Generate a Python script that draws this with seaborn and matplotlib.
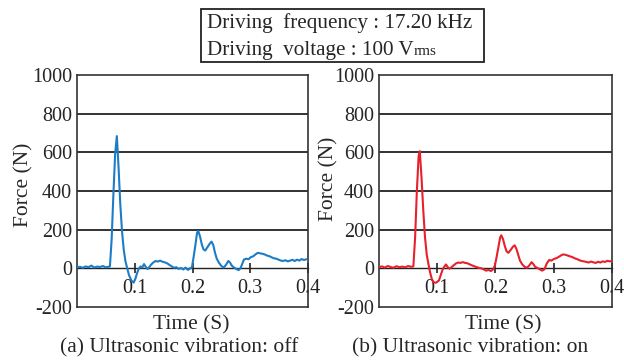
import numpy as np
import matplotlib
matplotlib.use("Agg")
import matplotlib.pyplot as plt
import seaborn as sns

# Force traces (time in s, force in N)
t_off = [0.000, 0.005, 0.010, 0.015, 0.020, 0.025, 0.030, 0.035, 0.040, 0.045,
         0.050, 0.054, 0.057, 0.060, 0.063, 0.066, 0.069, 0.072, 0.075, 0.078,
         0.081, 0.084, 0.087, 0.090, 0.094, 0.098, 0.101, 0.104, 0.107, 0.110,
         0.113, 0.116, 0.119, 0.122, 0.125, 0.128, 0.132, 0.136, 0.140, 0.144,
         0.148, 0.152, 0.156, 0.160, 0.164, 0.168, 0.172, 0.176, 0.180, 0.184,
         0.188, 0.192, 0.196, 0.199, 0.202, 0.205, 0.208, 0.210, 0.213, 0.216,
         0.219, 0.222, 0.226, 0.230, 0.233, 0.236, 0.239, 0.242, 0.246, 0.250,
         0.254, 0.258, 0.262, 0.265, 0.268, 0.272, 0.276, 0.280, 0.283, 0.286,
         0.289, 0.293, 0.297, 0.301, 0.305, 0.309, 0.313, 0.317, 0.321, 0.325,
         0.329, 0.333, 0.337, 0.341, 0.345, 0.349, 0.353, 0.357, 0.361, 0.365,
         0.369, 0.373, 0.377, 0.381, 0.385, 0.389, 0.393, 0.397]
f_off = [5, 8, 3, 10, 6, 14, 4, 9, 7, 12,
         5, 8, 10, 150, 380, 590, 684, 520, 330, 190,
         95, 35, 0, -35, -62, -74, -55, -25, -2, 10,
         4, 22, 8, -4, 6, 18, 30, 38, 35, 40,
         34, 31, 26, 18, 10, 3, 6, -3, 2, -6,
         4, -8, 0, 5, 60, 120, 185, 193, 165, 125,
         98, 92, 110, 128, 138, 120, 80, 50, 28, 12,
         4, 18, 38, 30, 14, 4, -4, -9, 0, 22,
         45, 50, 47, 58, 62, 72, 80, 78, 75, 72,
         66, 63, 57, 52, 50, 45, 40, 38, 42, 36,
         40, 44, 38, 45, 40, 48, 43, 47]

t_on = [0.000, 0.005, 0.010, 0.015, 0.020, 0.025, 0.030, 0.035, 0.040, 0.045,
        0.050, 0.055, 0.059, 0.062, 0.065, 0.068, 0.070, 0.073, 0.076, 0.079,
        0.082, 0.085, 0.088, 0.091, 0.094, 0.097, 0.100, 0.103, 0.106, 0.109,
        0.112, 0.115, 0.118, 0.121, 0.124, 0.128, 0.132, 0.136, 0.140, 0.144,
        0.148, 0.152, 0.156, 0.160, 0.164, 0.168, 0.172, 0.176, 0.180, 0.184,
        0.188, 0.192, 0.196, 0.199, 0.202, 0.205, 0.208, 0.210, 0.213, 0.216,
        0.219, 0.222, 0.226, 0.230, 0.233, 0.236, 0.239, 0.242, 0.246, 0.250,
        0.254, 0.258, 0.262, 0.265, 0.268, 0.272, 0.276, 0.280, 0.284, 0.288,
        0.292, 0.296, 0.300, 0.304, 0.308, 0.312, 0.316, 0.320, 0.324, 0.328,
        0.332, 0.336, 0.340, 0.344, 0.348, 0.352, 0.356, 0.360, 0.364, 0.368,
        0.372, 0.376, 0.380, 0.384, 0.388, 0.392, 0.396, 0.400]
f_on = [6, 10, 4, 12, 7, 3, 11, 6, 9, 5,
        12, 8, 10, 160, 400, 580, 606, 470, 300, 160,
        70, 20, -25, -58, -72, -75, -70, -62, -35, -8,
        8, 20, 6, -2, 5, 15, 25, 30, 28, 32,
        28, 26, 20, 15, 10, 6, 2, 0, -6, -12,
        -8, -14, -5, 15, 60, 110, 160, 171, 150, 115,
        88, 80, 95, 112, 119, 100, 70, 40, 20, 8,
        3, 15, 32, 22, 8, 2, -5, -12, -5, 25,
        43, 40, 48, 52, 58, 66, 72, 70, 66, 62,
        58, 52, 48, 42, 38, 36, 33, 30, 35, 31,
        28, 34, 30, 36, 33, 39, 36, 38]

y_ticks = [-200, 0, 200, 400, 600, 800, 1000]
x_ticks = [0.1, 0.2, 0.3, 0.4]
captions = ["(a) Ultrasonic vibration: off", "(b) Ultrasonic vibration: on"]

sns.set_style("white")
plt.rcParams["font.family"] = ["Liberation Serif", "DejaVu Serif"]

fig = plt.figure(figsize=(6.24, 3.63), dpi=100)
W, H = 624, 363

# (time, force, colour, caption, axes px span, ylabel px, ylabel centre y, xlabel centre x, caption centre x)
panels = [
    (t_off, f_off, "#1c7cc6", captions[0], (77, 308), 33, 185, 191, 179),
    (t_on, f_on, "#e8202c", captions[1], (379, 612), 338, 179, 503, 470),
]

for t, f, col, cap, (x0, x1), ylx, yly, xlx, capx in panels:
    w = x1 - x0
    ax = fig.add_axes([x0 / W, 1 - 307 / H, w / W, 232 / H])
    sns.lineplot(x=t, y=f, ax=ax, color=col, lw=1.5, zorder=3)
    ax.set_xlim(0, 0.4)
    ax.set_ylim(-200, 1000)
    ax.set_yticks(y_ticks)
    ax.set_yticklabels([str(v) for v in y_ticks])
    ax.tick_params(axis="y", length=0, labelsize=14.5, pad=3.5)
    ax.set_xticks([])
    for yv in [200, 400, 600, 800]:
        ax.axhline(yv, color="#222222", lw=1.3, zorder=1)
    for s in ax.spines.values():
        s.set_color("#333333")
        s.set_linewidth(1.2)
    # zero line carrying the time ticks
    sec = ax.secondary_xaxis(1 / 6)
    sec.set_xticks(x_ticks)
    sec.set_xticklabels([str(v) for v in x_ticks])
    sec.tick_params(direction="inout", length=7, width=1.2, colors="#222222",
                    labelsize=14.5, pad=4)
    sec.spines["bottom"].set_color("#222222")
    sec.spines["bottom"].set_linewidth(1.0)
    ax.set_ylabel("Force (N)", fontsize=15.5)
    ax.yaxis.set_label_coords((ylx - x0) / w, (307 - yly) / 232)
    ax.set_xlabel("Time (S)", fontsize=15.5, labelpad=6)
    ax.xaxis.label.set_x((xlx - x0) / w)
    ax.text((capx - x0) / w, -(348 - 307) / 232, cap, transform=ax.transAxes,
            ha="center", va="center", fontsize=15.5)

# header box
box = plt.Rectangle((201 / W, 1 - 62 / H), (484 - 201) / W, (62 - 9) / H,
                    transform=fig.transFigure, fill=False, ec="#222222", lw=1.3)
fig.add_artist(box)
fig.text(207 / W, 1 - 28 / H, "Driving  frequency : 17.20 kHz", fontsize=15.2,
         va="baseline", ha="left")
volt = fig.text(207 / W, 1 - 55 / H, "Driving  voltage : 100 V", fontsize=15.2,
                va="baseline", ha="left")
fig.canvas.draw()
bb = volt.get_window_extent()
fig.text(bb.x1 / W, 1 - 55 / H, "rms", fontsize=11, va="baseline", ha="left")

fig.savefig("out.png", dpi=100)
